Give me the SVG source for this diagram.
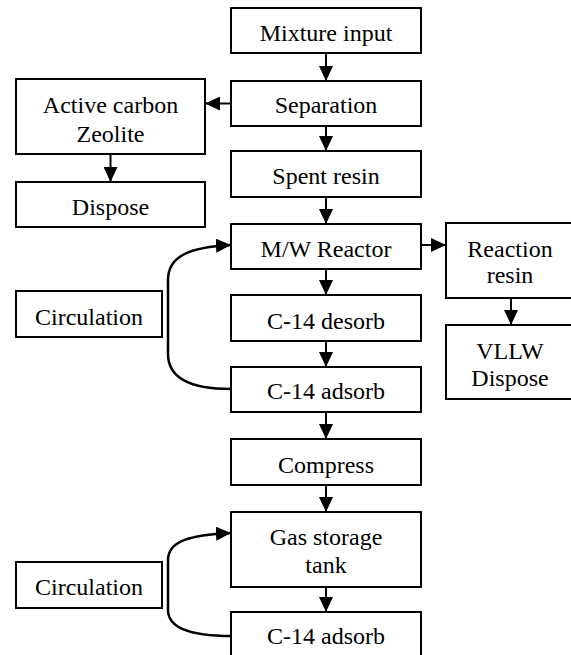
<svg xmlns="http://www.w3.org/2000/svg" width="571" height="655" viewBox="0 0 571 655">
<style>
.box{fill:#fff;stroke:#000;stroke-width:2}
.c{fill:none;stroke:#000;stroke-width:2;marker-end:url(#ah)}
.cv{fill:none;stroke:#000;stroke-width:2.5;marker-end:url(#ah)}
</style>
<defs>
<marker id="ah" markerUnits="userSpaceOnUse" markerWidth="15" markerHeight="14" refX="15" refY="7" orient="auto">
<path d="M0,0 L15,7 L0,14 z" fill="#000"/>
</marker>
</defs>
<rect width="571" height="655" fill="#fff"/>
<g id="connectors">
<line class="c" x1="326" y1="53" x2="326" y2="81"/>
<line class="c" x1="231" y1="103.5" x2="205" y2="103.5"/>
<line class="c" x1="326" y1="126" x2="326" y2="151"/>
<line class="c" x1="110.5" y1="154" x2="110.5" y2="182"/>
<line class="c" x1="326" y1="197" x2="326" y2="224"/>
<line class="c" x1="421" y1="245" x2="446" y2="245"/>
<line class="c" x1="511" y1="298" x2="511" y2="325"/>
<line class="c" x1="326" y1="269" x2="326" y2="295"/>
<line class="c" x1="326" y1="341" x2="326" y2="367"/>
<line class="c" x1="326" y1="412" x2="326" y2="439"/>
<line class="c" x1="326" y1="485" x2="326" y2="512"/>
<line class="c" x1="326" y1="587" x2="326" y2="612"/>
<path class="cv" d="M231,389 C195,389 168,380 168,354 L168,280 C168,256 190,247 231,245"/>
<path class="cv" d="M231,636 C195,636 168,630 168,610 L168,560 C168,541 190,535 231,533"/>
</g>
<g font-family="Liberation Serif, DejaVu Serif, serif" font-size="24" fill="#000" text-anchor="middle">
<g id="mixture-input"><rect class="box" x="231" y="8" width="190" height="45"/><text x="326" y="41">Mixture input</text></g>
<g id="separation"><rect class="box" x="231" y="81" width="190" height="45"/><text x="326" y="113">Separation</text></g>
<g id="active-carbon"><rect class="box" x="16" y="79" width="189" height="75"/><text x="110.5" y="113">Active carbon</text><text x="110.5" y="142">Zeolite</text></g>
<g id="dispose"><rect class="box" x="16" y="182" width="189" height="45"/><text x="110.5" y="215">Dispose</text></g>
<g id="spent-resin"><rect class="box" x="231" y="151" width="190" height="46"/><text x="326" y="184">Spent resin</text></g>
<g id="mw-reactor"><rect class="box" x="231" y="224" width="190" height="45"/><text x="326" y="257">M/W Reactor</text></g>
<g id="reaction-resin"><rect class="box" x="446" y="223" width="130" height="75"/><text x="510" y="257">Reaction</text><text x="510" y="283">resin</text></g>
<g id="vllw-dispose"><rect class="box" x="446" y="325" width="130" height="74"/><text x="510" y="359">VLLW</text><text x="510" y="386">Dispose</text></g>
<g id="circulation-1"><rect class="box" x="16" y="291" width="146" height="46"/><text x="89" y="325">Circulation</text></g>
<g id="c14-desorb"><rect class="box" x="231" y="295" width="190" height="46"/><text x="326" y="329">C-14 desorb</text></g>
<g id="c14-adsorb-1"><rect class="box" x="231" y="367" width="190" height="45"/><text x="326" y="399">C-14 adsorb</text></g>
<g id="compress"><rect class="box" x="231" y="439" width="190" height="46"/><text x="326" y="473">Compress</text></g>
<g id="gas-storage-tank"><rect class="box" x="231" y="512" width="190" height="75"/><text x="326" y="545">Gas storage</text><text x="326" y="573">tank</text></g>
<g id="circulation-2"><rect class="box" x="16" y="562" width="146" height="46"/><text x="89" y="595">Circulation</text></g>
<g id="c14-adsorb-2"><rect class="box" x="231" y="612" width="190" height="50"/><text x="326" y="644">C-14 adsorb</text></g>
</g>
</svg>
